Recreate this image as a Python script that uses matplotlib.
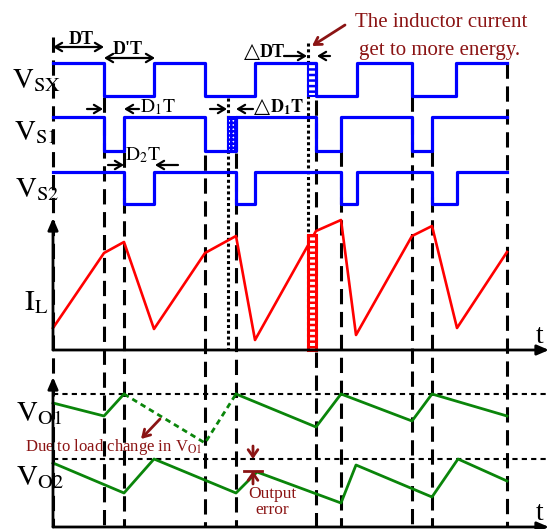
import numpy as np
import matplotlib.pyplot as plt
from matplotlib.patches import Rectangle

plt.rcParams['mathtext.fontset'] = 'stix'
plt.rcParams['font.family'] = ['Liberation Serif', 'DejaVu Sans']
plt.rcParams['hatch.linewidth'] = 1.8

# switching edges (time, px) and logic levels between edges
vsx_t = [53, 104, 154, 205, 255, 316, 357, 412, 456, 507]
vs1_t = [53, 104, 124, 205, 236, 316, 341, 412, 432, 507]
vs2_t = [53, 124, 154, 236, 255, 341, 357, 432, 457, 507]
levels = [1, 0, 1, 0, 1, 0, 1, 0, 1]
# (high, low) row positions
rows = {'VSX': (63, 96), 'VS1': (117, 151), 'VS2': (172, 204)}

# inductor current
il_t = [53, 104, 124, 154, 205, 236, 255, 316, 341, 356, 412, 432, 457, 507]
il_v = [328, 253, 242, 329, 253, 236, 340, 231, 220, 335, 236, 226, 328, 252]

# output voltages
vo1_t_a = [53, 104, 124]
vo1_v_a = [403, 416, 394]
vo1_t_dash = [124, 205, 236]
vo1_v_dash = [394, 443, 394]
vo1_t_b = [236, 316, 341, 412, 432, 507]
vo1_v_b = [394, 427, 394, 421, 394, 416]
vo2_t = [53, 124, 154, 236, 257, 341, 356, 432, 458, 507]
vo2_v = [463, 493, 459, 493, 472, 503, 465, 497, 459, 481]
vo1_ref, vo2_ref = 394, 459

dash_x = [104, 124, 205, 236, 316, 341, 412, 432, 507]
dash_top = [97, 152, 155, 153, 100, 151, 96, 151, 63]
dot_x = [228, 308]
dot_top = [98, 43]

BLUE, RED, GREEN, DRED = '#0000FF', '#FF0000', '#0A850A', '#8B1414'

fig = plt.figure(figsize=(5.53, 5.29), dpi=100)
ax = fig.add_axes([0, 0, 1, 1])
ax.set_xlim(0, 553)
ax.set_ylim(529, 0)
ax.axis('off')

# vertical timing guides
ax.plot([53, 53], [37, 527], color='k', lw=2.2, dashes=(5, 2.5), zorder=1)
for x, top in zip(dash_x, dash_top):
    ax.plot([x, x], [top, 527], color='k', lw=2.2, dashes=(5, 2.5), zorder=1)
for x, top in zip(dot_x, dot_top):
    ax.plot([x, x], [top, 350], color='k', lw=2.2, dashes=(1.0, 0.9), zorder=1)

# switch signals
for name, edges in [('VSX', vsx_t), ('VS1', vs1_t), ('VS2', vs2_t)]:
    hi, lo = rows[name]
    y = [hi if l else lo for l in levels]
    ax.step(edges, y + [y[-1]], where='post', color=BLUE, lw=2.3, zorder=3)

ax.add_patch(Rectangle((308, 63), 8, 33, facecolor='white', edgecolor=BLUE,
                       hatch='---', lw=1.5, zorder=4))
ax.add_patch(Rectangle((228, 117), 8, 34, facecolor='white', edgecolor=BLUE,
                       hatch='++++', lw=1.5, zorder=4))

# inductor current
ax.plot(il_t, il_v, color=RED, lw=1.9, zorder=3)
ax.add_patch(Rectangle((308, 235), 8, 115, facecolor='white', edgecolor=RED,
                       hatch='---', lw=2.2, zorder=4))

# output voltages
ax.plot([53, 547], [vo1_ref, vo1_ref], color='k', lw=1.5, dashes=(2.5, 2), zorder=2)
ax.plot([53, 547], [vo2_ref, vo2_ref], color='k', lw=1.5, dashes=(2.5, 2), zorder=2)
ax.plot(vo1_t_a, vo1_v_a, color=GREEN, lw=2, zorder=3)
ax.plot(vo1_t_dash, vo1_v_dash, color=GREEN, lw=2, dashes=(2, 1.5), zorder=3)
ax.plot(vo1_t_b, vo1_v_b, color=GREEN, lw=2, zorder=3)
ax.plot(vo2_t, vo2_v, color=GREEN, lw=2, zorder=3)

# axes with arrows
ak = dict(arrowstyle='-|>,head_length=0.7,head_width=0.3', color='k', lw=2,
          shrinkA=0, shrinkB=0)
for (x0, y0), (x1, y1) in [((53, 350), (53, 218)), ((53, 350), (549, 350)),
                           ((53, 527), (53, 377)), ((53, 527), (549, 527))]:
    ax.annotate('', xy=(x1, y1), xytext=(x0, y0), arrowprops=ak, zorder=5)

# labels
lab = dict(fontsize=21, ha='left', va='baseline')
ax.text(12, 88, r'$\mathrm{V_{SX}}$', **lab)
ax.text(14, 140, r'$\mathrm{V_{S1}}$', **lab)
ax.text(15, 197, r'$\mathrm{V_{S2}}$', **lab)
ax.text(24, 310, r'$\mathrm{I_{L}}$', **lab)
ax.text(16, 421, r'$\mathrm{V_{O1}}$', **lab)
ax.text(16, 485, r'$\mathrm{V_{O2}}$', **lab)
ax.text(536, 343, 't', fontsize=20, va='baseline')
ax.text(536, 520, 't', fontsize=20, va='baseline')

# interval arrows
def arr(x0, x1, y, style='->', color='k'):
    ax.annotate('', xy=(x1, y), xytext=(x0, y),
                arrowprops=dict(arrowstyle=style + ',head_length=0.5,head_width=0.3',
                                color=color, lw=1.6, shrinkA=0, shrinkB=0), zorder=5)

arr(53, 104, 47, '<->')
arr(104, 155, 58, '<->')
arr(284, 307, 56)
arr(330, 317, 56)
arr(87, 103, 109)
arr(139, 124, 109)
arr(108, 124, 165)
arr(178, 155, 165)
arr(210, 227, 109)
arr(253, 236, 109)

ax.text(81, 44, 'DT', fontsize=13, fontweight='bold', ha='center', va='baseline')
ax.text(128, 54, "D'T", fontsize=13, fontweight='bold', ha='center', va='baseline')
ax.text(244, 57, '△', fontsize=15, family='DejaVu Sans', ha='left', va='baseline')
ax.text(260, 57, 'DT', fontsize=13, fontweight='bold', ha='left', va='baseline')
ax.text(140, 112, r'$\mathrm{D_1T}$', fontsize=14, ha='left', va='baseline')
ax.text(125, 160, r'$\mathrm{D_2T}$', fontsize=14, ha='left', va='baseline')
ax.text(254, 112, '△', fontsize=15, family='DejaVu Sans', ha='left', va='baseline')
ax.text(270, 112, r'$\mathbf{D_1T}$', fontsize=13, ha='left', va='baseline')

# annotations in dark red
ax.text(441, 27, 'The inductor current', fontsize=15, color=DRED, ha='center', va='baseline')
ax.text(440, 55, 'get to more energy.', fontsize=15, color=DRED, ha='center', va='baseline')
ax.annotate('', xy=(312, 46), xytext=(345, 25),
            arrowprops=dict(arrowstyle='->,head_length=0.5,head_width=0.3',
                            color=DRED, lw=2, shrinkA=0, shrinkB=0))
ax.text(25, 451, r'Due to load change in V$_\mathrm{O1}$', fontsize=12,
        color=DRED, ha='left', va='baseline')
ax.annotate('', xy=(141, 439), xytext=(160, 419),
            arrowprops=dict(arrowstyle='->,head_length=0.5,head_width=0.3',
                            color=DRED, lw=2, shrinkA=0, shrinkB=0))
ax.annotate('', xy=(253, 459), xytext=(253, 446),
            arrowprops=dict(arrowstyle='->,head_length=0.5,head_width=0.35',
                            color=DRED, lw=2, shrinkA=0, shrinkB=0), zorder=5)
ax.annotate('', xy=(253, 471), xytext=(253, 484),
            arrowprops=dict(arrowstyle='->,head_length=0.5,head_width=0.35',
                            color=DRED, lw=2, shrinkA=0, shrinkB=0), zorder=5)
ax.plot([244, 262], [471, 471], color=DRED, lw=2, zorder=5)
ax.text(272, 498, 'Output', fontsize=12.5, color=DRED, ha='center', va='baseline')
ax.text(272, 514, 'error', fontsize=12.5, color=DRED, ha='center', va='baseline')

fig.savefig('out.png', dpi=100)
